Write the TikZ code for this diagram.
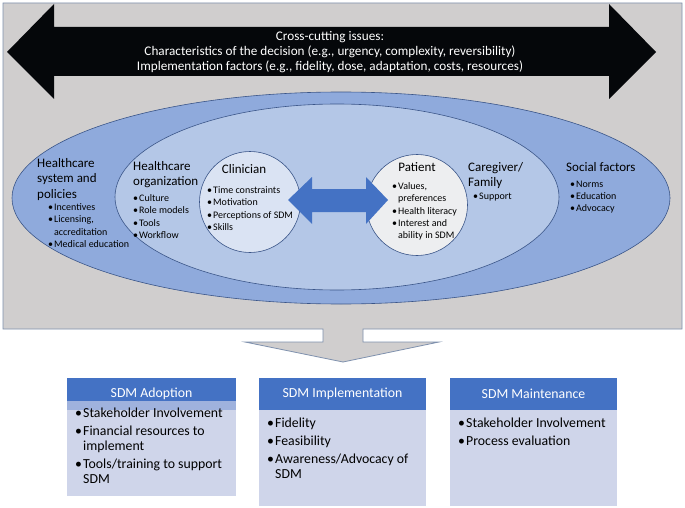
\documentclass[tikz,border=0pt]{standalone}
\usepackage{fontspec}
\setmainfont{Carlito}
\usetikzlibrary{shapes.geometric}
\definecolor{panelgray}{HTML}{D0CECE}
\definecolor{panelborder}{HTML}{7F91AE}
\definecolor{arrowblack}{HTML}{05070A}
\definecolor{outerfill}{HTML}{8FAADC}
\definecolor{innerfill}{HTML}{B4C7E7}
\definecolor{clinfill}{HTML}{DAE3F3}
\definecolor{patfill}{HTML}{EDEEF0}
\definecolor{ellborder}{HTML}{3A5588}
\definecolor{bluearrow}{HTML}{4472C4}
\definecolor{headblue}{HTML}{4472C4}
\definecolor{bodyblue}{HTML}{CFD5EA}
\definecolor{bandblue}{HTML}{9FB2DD}
\newcommand\fsTop{\fontsize{13.2}{15.2}\selectfont}
\newcommand\fsTitle{\fontsize{13}{15.5}\selectfont}
\newcommand\fsSmall{\fontsize{10}{12.3}\selectfont}
\newcommand\fsBox{\fontsize{13.8}{15}\selectfont}
\newcommand\sbul{\makebox[6pt][l]{•}}
\newcommand\sind{\hspace*{6pt}}
\newcommand\lbul{\makebox[8pt][l]{•}}
\newcommand\lind{\hspace*{8pt}}
\begin{document}
\begin{tikzpicture}[x=1pt,y=-1pt,
  txt/.style={inner sep=0pt, anchor=north west, align=left},
  ctitle/.style={inner sep=0pt, anchor=north, align=center, font=\fsTitle},
  ellnode/.style={ellipse, draw=ellborder, line width=0.6pt, inner sep=0pt},
  circnode/.style={circle, draw=ellborder, line width=0.6pt, inner sep=0pt, minimum size=101pt},
  boxbody/.style={fill=bodyblue, inner sep=0pt, anchor=north west},
  boxhead/.style={fill=headblue, inner sep=0pt, anchor=north west, minimum height=32pt},
  headtxt/.style={text=white, font=\fsBox, inner sep=0pt}
]
\useasboundingbox (0,0) rectangle (685,508);
\fill[white] (0,0) rectangle (685,508);
% panel merged with down arrow
\draw[fill=panelgray, draw=panelborder, line width=0.8pt]
  (3,3) -- (682,3) -- (682,329) -- (363,329) -- (363,342) -- (439,342)
  -- (343,362) -- (245,342) -- (323,342) -- (323,329) -- (3,329) -- cycle;
% black double arrow
\fill[arrowblack] (7,52) -- (54,4) -- (54,27) -- (609,27) -- (609,4) -- (656,52)
  -- (609,99) -- (609,76) -- (54,76) -- (54,99) -- cycle;
\node[text=white, align=center, font=\fsTop, inner sep=0pt] (cross) at (330,52)
  {Cross-cutting issues:\\Characteristics of the decision (e.g., urgency, complexity, reversibility)\\Implementation factors (e.g., fidelity, dose, adaptation, costs, resources)};
% ellipses
\node[ellnode, fill=outerfill, minimum width=658pt, minimum height=212pt] (outer) at (341,198) {};
\node[ellnode, fill=innerfill, minimum width=444pt, minimum height=186pt] (inner) at (337,197) {};
\node[circnode, fill=clinfill] (clin) at (250,202) {};
\node[circnode, fill=patfill] (pat) at (417,205) {};
% blue double arrow between clinician and patient
\fill[bluearrow] (288,200) -- (312,177) -- (312,189) -- (366,189) -- (366,177) -- (388,200)
  -- (366,224) -- (366,212) -- (312,212) -- (312,224) -- cycle;
% texts in ellipses
\node[txt, font=\fsTitle] (hsys) at (37,158) {Healthcare\\system and\\policies};
\node[txt, font=\fsSmall] (hsysb) at (48,203.5) {\sbul Incentives\\\sbul Licensing,\\\sind accreditation\\\sbul Medical education};
\node[txt, font=\fsTitle] (horg) at (133,161) {Healthcare\\organization};
\node[txt, font=\fsSmall] (horgb) at (133,194.5) {\sbul Culture\\\sbul Role models\\\sbul Tools\\\sbul Workflow};
\node[ctitle] (clint) at (244,164) {Clinician};
\node[txt, font=\fsSmall] (clinb) at (207,186.5) {\sbul Time constraints\\\sbul Motivation\\\sbul Perceptions of SDM\\\sbul Skills};
\node[ctitle] (patt) at (417,162) {Patient};
\node[txt, font=\fsSmall] (patb) at (392,182.5) {\sbul Values,\\\sind preferences\\\sbul Health literacy\\\sbul Interest and\\\sind ability in SDM};
\node[txt, font=\fsTitle] (care) at (468,162) {Caregiver/\\Family};
\node[txt, font=\fsSmall] (careb) at (473,192.5) {\sbul Support};
\node[txt, font=\fsTitle] (soc) at (566,162) {Social factors};
\node[txt, font=\fsSmall] (socb) at (570,180.5) {\sbul Norms\\\sbul Education\\\sbul Advocacy};
% bottom boxes
\node[boxbody, minimum width=169pt, minimum height=118pt] (b1) at (67,378) {};
\node[boxhead, minimum width=169pt, minimum height=32pt, fill=bandblue] (b1band) at (67,378) {};
\node[boxhead, minimum width=169pt, minimum height=23pt] (b1h) at (67,378) {};
\node[headtxt] (b1t) at (151.5,394) {SDM Adoption};
\node[txt, font=\fsBox] (b1l) at (75,408) {\lbul Stakeholder Involvement\\[3pt]\lbul Financial resources to\\\lind implement\\[3pt]\lbul Tools/training to support\\\lind SDM};
\node[boxbody, minimum width=167pt, minimum height=128pt] (b2) at (259,378) {};
\node[boxhead, minimum width=167pt] (b2h) at (259,378) {};
\node[headtxt] (b2t) at (342.5,394) {SDM Implementation};
\node[txt, font=\fsBox] (b2l) at (267,418) {\lbul Fidelity\\[3pt]\lbul Feasibility\\[3pt]\lbul Awareness/Advocacy of\\\lind SDM};
\node[boxbody, minimum width=167pt, minimum height=128pt] (b3) at (450,378) {};
\node[boxhead, minimum width=167pt] (b3h) at (450,378) {};
\node[headtxt] (b3t) at (533.5,394) {SDM Maintenance};
\node[txt, font=\fsBox] (b3l) at (458,418) {\lbul Stakeholder Involvement\\[3pt]\lbul Process evaluation};
\end{tikzpicture}
\end{document}
